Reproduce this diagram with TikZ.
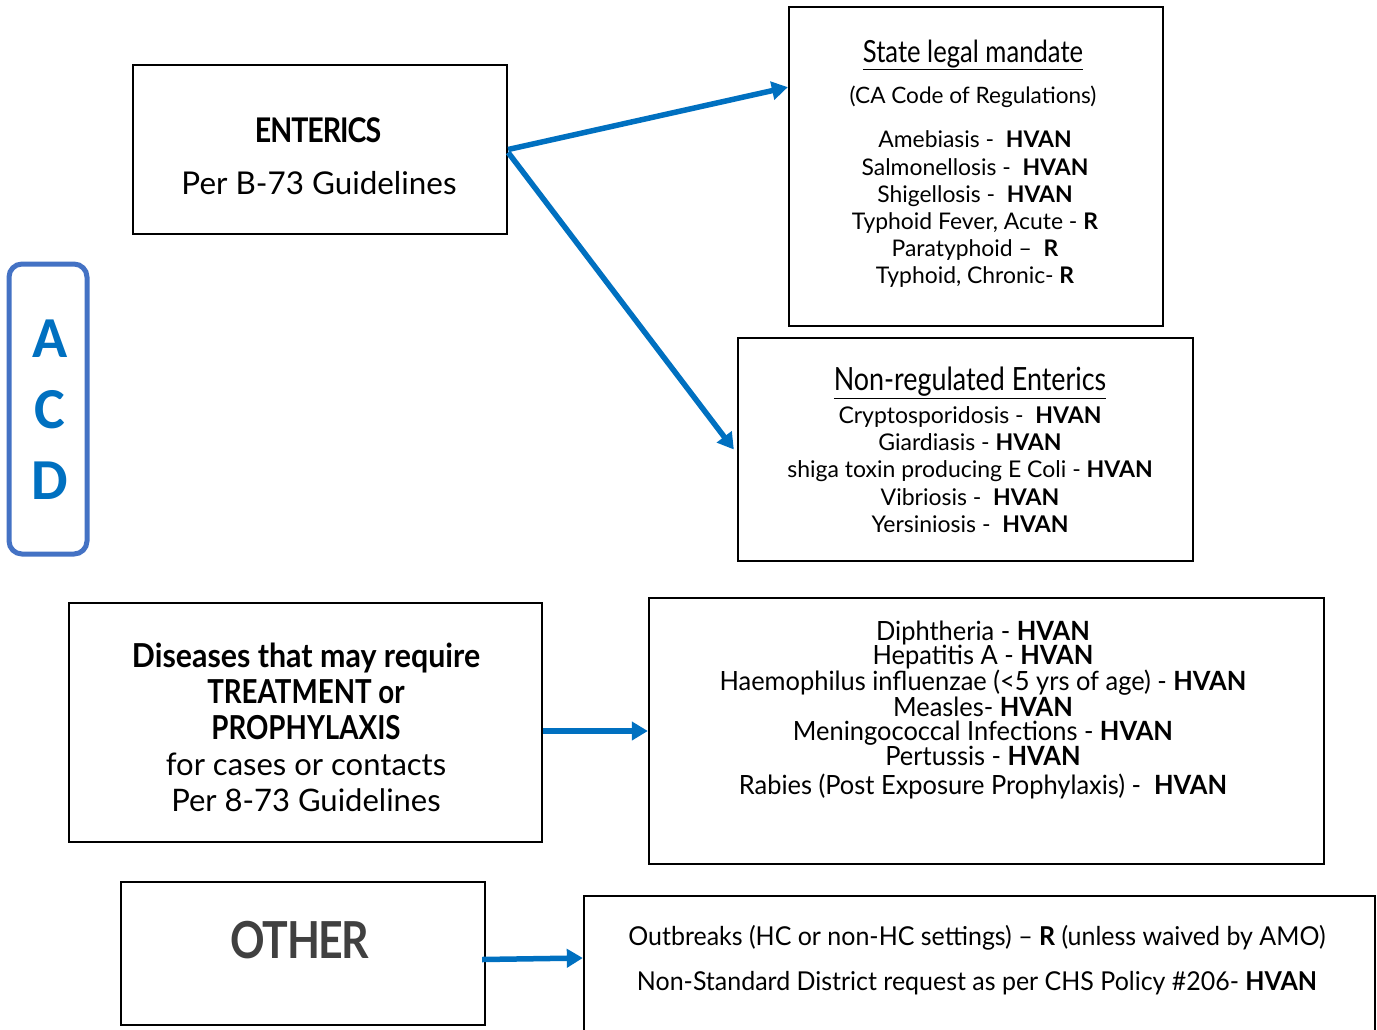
\documentclass[tikz,border=0pt]{standalone}
\usepackage{fontspec}
\setmainfont{Lato}
\newfontfamily\cf[FakeStretch=0.84]{Lato}
\newfontfamily\mf[FakeStretch=0.96]{Lato}
\newfontfamily\df[FakeStretch=0.92]{Lato}
\newfontfamily\acdf{Carlito}
\usetikzlibrary{arrows.meta,calc}
\definecolor{arrblue}{RGB}{0,112,192}
\definecolor{acdblue}{RGB}{68,114,196}
\definecolor{othergray}{RGB}{64,64,64}
\newcommand{\fs}[2]{\fontsize{#1}{#2}\selectfont}
\begin{document}
\begin{tikzpicture}[x=1pt,y=-1pt,
  box/.style={draw=black,line width=2.3pt,inner sep=0pt},
  txt/.style={align=center,inner sep=0pt,text=black},
  arr/.style={draw=arrblue,line width=5.5pt,-{Triangle[length=16pt,width=18pt]}}]
\useasboundingbox (0,0) rectangle (1377,1029);
% boxes
\node[box,minimum width=374pt,minimum height=169pt] (ent) at (320,149.5) {};
\node[box,minimum width=374pt,minimum height=319pt] (state) at (976,166.5) {};
\node[box,minimum width=455pt,minimum height=223pt] (nonreg) at (965.5,449.5) {};
\node[draw=acdblue,line width=5pt,rounded corners=13pt,minimum width=78pt,minimum height=290pt] (acd) at (48,409) {};
\node[box,minimum width=473pt,minimum height=239pt] (dis) at (305.5,722.5) {};
\node[box,minimum width=675pt,minimum height=266pt] (list) at (986.5,731) {};
\node[box,minimum width=364pt,minimum height=143pt] (other) at (303,953.5) {};
\node[box,minimum width=791pt,minimum height=150pt] (out) at (979.5,971) {};
% texts
\node[txt,font={\cf\bfseries\fs{34}{36}\addfontfeature{LetterSpace=-3}}] (t1) at (318,130) {ENTERICS};
\node[txt,font=\fs{31.4}{34}] (t2) at (319,183) {Per B-73 Guidelines};
\node[txt,font={\cf\fs{30.5}{34}}] (t3) at (973,55) {\underline{State legal mandate}};
\node[txt,font=\fs{22.6}{26}] (t4) at (973,97) {(CA Code of Regulations)};
\node[txt,font=\fs{22.9}{27.2}] (t5) at (975,209.5) {Amebiasis -\ \ \textbf{HVAN}\\Salmonellosis -\ \ \textbf{HVAN}\\Shigellosis -\ \ \textbf{HVAN}\\Typhoid Fever, Acute -\ \textbf{R}\\Paratyphoid –\ \ \textbf{R}\\Typhoid, Chronic- \textbf{R}};
\node[txt,font={\cf\fs{32}{34}}] (t6) at (970,383) {\underline{Non-regulated Enterics}};
\node[txt,font=\fs{23}{27.2}] (t7) at (970,469.5) {Cryptosporidosis -\ \ \textbf{HVAN}\\Giardiasis - \textbf{HVAN}\\shiga toxin producing E Coli - \textbf{HVAN}\\Vibriosis -\ \ \textbf{HVAN}\\Yersiniosis -\ \ \textbf{HVAN}};
\node[txt,font={\acdf\bfseries\fs{58}{71}},text=arrblue] (acdt) at (50,410) {A\\C\\D};
\node[txt,font={\df\bfseries\fs{33}{36}}] (t8a) at (306,658) {Diseases that may require};
\node[txt,font={\cf\bfseries\fs{33}{36}}] (t8) at (306,710) {TREATMENT or\\PROPHYLAXIS};
\node[txt,font=\fs{31}{36}] (t9) at (306,782) {for cases or contacts\\Per 8-73 Guidelines};
\node[txt,font={\mf\fs{26.5}{24}}] (t10) at (983,710) {Diphtheria - \textbf{HVAN}\\Hepatitis A\ - \textbf{HVAN}\\Haemophilus influenzae (<5 yrs of age) -\ \textbf{HVAN}\\Measles- \textbf{HVAN}\\Meningococcal Infections - \textbf{HVAN}\\Pertussis -\ \textbf{HVAN}\\[5pt]Rabies (Post Exposure Prophylaxis) -\ \ \textbf{HVAN}};
\node[txt,font={\cf\bfseries\fs{51}{52}\addfontfeature{LetterSpace=-3}},text=othergray] (t11) at (300,940) {OTHER};
\node[txt,font={\mf\fs{26}{45}}] (t12) at (977,960.5) {Outbreaks (HC or non-HC settings) – \textbf{R} (unless waived by AMO)\\Non-Standard District request as per CHS Policy \#206- \textbf{HVAN}};
% connectors
\draw[arr] (ent.east) -- ($(state.north west)!0.253!(state.south west)$);
\draw[arr] ([yshift=-3pt]ent.east) -- ([xshift=-3pt]nonreg.west);
\draw[arr] (dis.east |- list.west) -- (list.west);
\draw[arr] ([shift={(-4,6)}]other.east) -- ([yshift=13pt]out.west);
\end{tikzpicture}
\end{document}
